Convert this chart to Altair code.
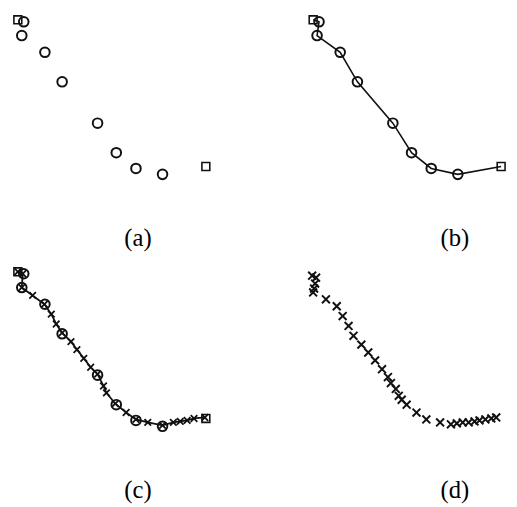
import altair as alt
import pandas as pd

# Control points (circles), shared by panels a, b, c
circle_x = [16, 14, 37.5, 55, 91, 110, 130, 157]
circle_y = [7, 21, 38, 68, 110, 140, 156, 162]
# End points (squares)
end_x = [10, 201]
end_y = [5, 154]
# Crosses of panel c (points on the curve)
c_cross_x = [10, 15, 14, 25, 37, 44, 49, 55, 64, 70, 77, 84, 91, 97, 100, 109, 120, 130, 142, 157, 168, 175, 182, 189, 200]
c_cross_y = [5, 7, 21, 29, 38, 48, 58, 67, 76, 84, 93, 102, 109, 121, 128, 139, 148, 155, 158, 161, 158, 157, 156, 154, 153]
# Crosses of panel d
d_cross_x = [9, 13, 12, 11, 10, 23, 34, 40, 46, 51, 59, 66, 73, 80, 86, 89, 94, 97, 100, 105, 115, 125, 139, 150, 156, 162, 168, 174, 179, 185, 191, 196]
d_cross_y = [9, 11, 17, 22, 26, 33, 40, 50, 60, 70, 79, 87, 95, 104, 112, 118, 124, 131, 135, 140, 148, 155, 158, 160, 159, 158, 158, 157, 156, 155, 154, 153]
labels = ["(a)", "(b)", "(c)", "(d)"]

W = 205
H_TOP = 256
H_BOT = 223
OFF = 20          # invisible top margin that fixes the layout offset
LABEL_Y = 227 - OFF
X_SHAPE = "M-1,-1L1,1M-1,1L1,-1"
INK = "#111"

circles = pd.DataFrame({"x": circle_x, "y": circle_y})
ends = pd.DataFrame({"x": end_x, "y": end_y})
path_b = pd.DataFrame({"x": [end_x[0]] + circle_x + [end_x[1]],
                       "y": [end_y[0]] + circle_y + [end_y[1]]})
path_b["i"] = range(len(path_b))
c_cross = pd.DataFrame({"x": c_cross_x, "y": c_cross_y})
c_cross["i"] = range(len(c_cross))
d_cross = pd.DataFrame({"x": d_cross_x, "y": d_cross_y})


def enc(h):
    return dict(
        x=alt.X("x:Q", scale=alt.Scale(domain=[0, W], nice=False, zero=False), axis=None),
        y=alt.Y("y:Q", scale=alt.Scale(domain=[OFF, h + OFF], nice=False, zero=False, reverse=True), axis=None),
    )


def circ(h):
    return alt.Chart(circles).mark_point(shape="circle", size=95, strokeWidth=2, color=INK,
                                         filled=False, opacity=1).encode(**enc(h))


def sq(h):
    return alt.Chart(ends).mark_point(shape="square", size=64, strokeWidth=1.6, color=INK,
                                      filled=False, opacity=1).encode(**enc(h))


def label(text, xpos):
    return alt.Chart(pd.DataFrame({"t": [text]})).mark_text(
        font="Liberation Serif", fontSize=25, color="black", align="center", baseline="middle"
    ).encode(x=alt.value(xpos), y=alt.value(LABEL_Y), text="t:N")


spacer = alt.Chart(pd.DataFrame({"k": [0]})).mark_rect(opacity=0).encode(
    x=alt.value(0), x2=alt.value(W), y=alt.value(-OFF), y2=alt.value(0)
)

pa = alt.layer(spacer, circ(H_TOP), sq(H_TOP), label(labels[0], 132)).properties(width=W, height=H_TOP)

line_b = alt.Chart(path_b).mark_line(color=INK, strokeWidth=1.6).encode(order="i:Q", **enc(H_TOP))
pb = alt.layer(line_b, circ(H_TOP), sq(H_TOP), label(labels[1], 154)).properties(width=W, height=H_TOP)

line_c = alt.Chart(c_cross).mark_line(color=INK, strokeWidth=1.8).encode(order="i:Q", **enc(H_BOT))
cross_c = alt.Chart(c_cross).mark_point(shape=X_SHAPE, size=45, strokeWidth=1.8, color=INK,
                                        filled=False, opacity=1).encode(**enc(H_BOT))
pc = alt.layer(line_c, cross_c, circ(H_BOT), sq(H_BOT), label(labels[2], 132)).properties(width=W, height=H_BOT)

cross_d = alt.Chart(d_cross).mark_point(shape=X_SHAPE, size=64, strokeWidth=2, color=INK,
                                        filled=False, opacity=1).encode(**enc(H_BOT))
pd_ = alt.layer(cross_d, label(labels[3], 154)).properties(width=W, height=H_BOT)

chart = alt.concat(
    pa, pb, pc, pd_,
    columns=2,
    spacing=alt.RowColnumber(row=0, column=95),
    bounds="flush",
).properties(padding=0).configure(background="white", view=alt.ViewConfig(stroke=None))

chart.save("out.html", embed_options={"renderer": "svg", "actions": False})
